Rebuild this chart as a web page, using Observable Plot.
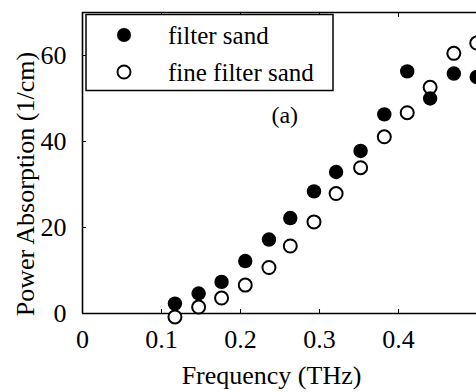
<!DOCTYPE html>
<html>
<head>
<meta charset="utf-8">
<script src="https://cdn.jsdelivr.net/npm/d3@7"></script>
<script src="https://cdn.jsdelivr.net/npm/@observablehq/plot@0.6"></script>
<style>
  html, body { margin: 0; padding: 0; background: white; overflow: hidden; }
  #wrap { position: relative; width: 476px; height: 392px; }
  #legend { position: absolute; left: 0; top: 0; pointer-events: none; }
</style>
</head>
<body>
<div id="wrap"></div>
<script>
const freq = [0.117, 0.147, 0.176, 0.206, 0.236, 0.263, 0.293, 0.321, 0.352, 0.382, 0.411, 0.440, 0.470, 0.499];
const filterSand = [2.3, 4.65, 7.35, 12.2, 17.2, 22.2, 28.4, 32.9, 37.8, 46.3, 56.3, 50.0, 55.8, 55.0];
const fineFilterSand = [-0.8, 1.5, 3.6, 6.6, 10.7, 15.7, 21.3, 27.9, 33.9, 41.1, 46.7, 52.6, 60.5, 62.9];
const seriesNames = ["filter sand", "fine filter sand"];
const xTicks = [0, 0.1, 0.2, 0.3, 0.4];
const xTickLabels = ["0", "0.1", "0.2", "0.3", "0.4"];
const yTicks = [0, 20, 40, 60];
const xLabel = "Frequency (THz)";
const yLabel = "Power Absorption (1/cm)";
const panel = [{x: 0.256, y: 46, text: "(a)"}];

const filled = freq.map((f, i) => ({x: f, y: filterSand[i]}));
const open = freq.map((f, i) => ({x: f, y: fineFilterSand[i]}));

const font = "Liberation Serif, 'Times New Roman', serif";

const chart = Plot.plot({
  width: 476,
  height: 392,
  marginLeft: 82,
  marginRight: 0,
  marginTop: 12,
  marginBottom: 79,
  x: {domain: [0, 0.4987]},
  y: {domain: [0, 70]},
  style: {fontFamily: font, fontSize: "25px", color: "black", background: "white", overflow: "hidden"},
  marks: [
    Plot.ruleX([0], {stroke: "black", strokeWidth: 1.6}),
    Plot.ruleY([0], {stroke: "black", strokeWidth: 1.6}),
    Plot.ruleY([70], {stroke: "black", strokeWidth: 1.6}),
    Plot.axisX({ticks: xTicks, tickFormat: (d, i) => xTickLabels[i], tickSize: -4, tickPadding: 20, label: null, fontSize: 26}),
    Plot.axisX({anchor: "top", ticks: xTicks, tickFormat: () => "", tickSize: -4, label: null}),
    Plot.axisY({ticks: yTicks, tickSize: -4, tickPadding: 20, label: null, fontSize: 26}),
    Plot.text([xLabel], {frameAnchor: "bottom", textAnchor: "middle", lineAnchor: "bottom", dx: -8, dy: 70, fontSize: 26, text: d => d}),
    Plot.text([yLabel], {frameAnchor: "left", textAnchor: "middle", lineAnchor: "middle", rotate: -90, dx: -57, dy: 21, fontSize: 26, text: d => d}),
    Plot.text(panel, {x: "x", y: "y", text: "text", fontSize: 24}),
    Plot.dot(open, {x: "x", y: "y", r: 6.5, fill: "white", stroke: "black", strokeWidth: 2}),
    Plot.dot(filled, {x: "x", y: "y", r: 7.2, fill: "black"})
  ]
});

const wrap = document.getElementById("wrap");
wrap.appendChild(chart);

// legend overlay
const ns = "http://www.w3.org/2000/svg";
const lg = document.createElementNS(ns, "svg");
lg.setAttribute("id", "legend");
lg.setAttribute("width", 476);
lg.setAttribute("height", 392);
const box = document.createElementNS(ns, "rect");
box.setAttribute("x", 86); box.setAttribute("y", 14.5);
box.setAttribute("width", 247); box.setAttribute("height", 76);
box.setAttribute("fill", "white"); box.setAttribute("stroke", "black"); box.setAttribute("stroke-width", 1.5);
lg.appendChild(box);
seriesNames.forEach((name, i) => {
  const cy = 35 + i * 37;
  const c = document.createElementNS(ns, "circle");
  c.setAttribute("cx", 124); c.setAttribute("cy", cy);
  if (i === 0) { c.setAttribute("r", 7); c.setAttribute("fill", "black"); }
  else { c.setAttribute("r", 6.5); c.setAttribute("fill", "white"); c.setAttribute("stroke", "black"); c.setAttribute("stroke-width", 2); }
  lg.appendChild(c);
  const t = document.createElementNS(ns, "text");
  t.setAttribute("x", 168); t.setAttribute("y", cy + 9);
  t.setAttribute("font-family", font); t.setAttribute("font-size", 25);
  t.textContent = name;
  lg.appendChild(t);
});
wrap.appendChild(lg);
</script>
</body>
</html>
